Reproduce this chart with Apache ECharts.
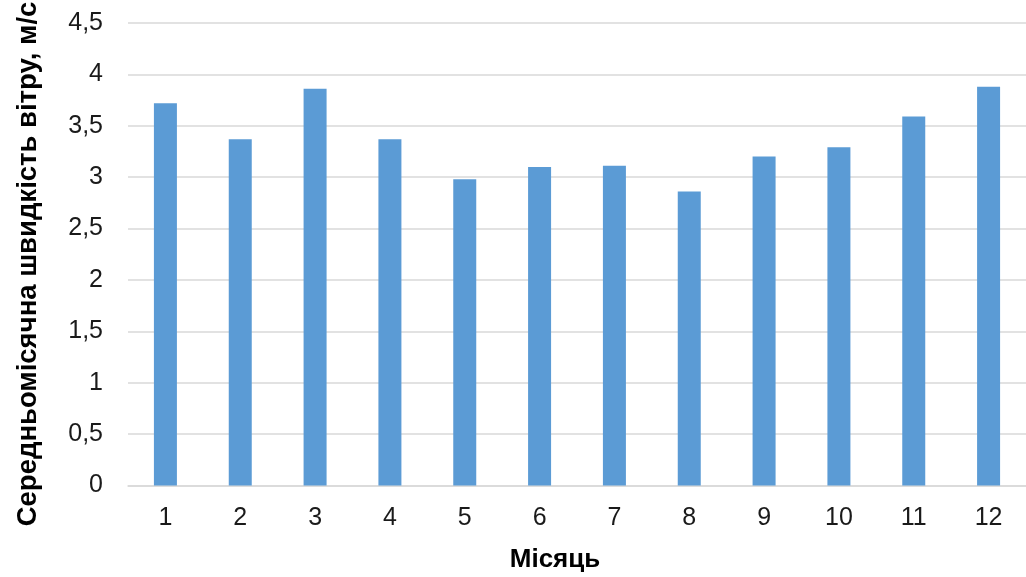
<!DOCTYPE html>
<html>
<head>
<meta charset="utf-8">
<style>
  html, body { margin: 0; padding: 0; background: #ffffff; }
  #chart { width: 1026px; height: 577px; }
</style>
<script src="https://cdn.jsdelivr.net/npm/echarts@6/dist/echarts.min.js"></script>
</head>
<body>
<div id="chart"></div>
<script>
// Monthly mean wind speed, m/s
const months = ['1', '2', '3', '4', '5', '6', '7', '8', '9', '10', '11', '12'];
const windSpeed = [3.72, 3.37, 3.86, 3.37, 2.98, 3.10, 3.11, 2.86, 3.20, 3.29, 3.59, 3.88];
const yTitle = 'Середньомісячна швидкість вітру, м/с';
const xTitle = 'Місяць';

const chart = echarts.init(document.getElementById('chart'));
const font = '"Liberation Sans", Arial, sans-serif';

chart.setOption({
  animation: false,
  backgroundColor: '#ffffff',
  grid: { left: 128, right: -2, top: 23, bottom: 91.5, containLabel: false },
  xAxis: {
    type: 'category',
    data: months,
    axisLine: { show: true, lineStyle: { color: '#d9d9d9', width: 1.5 } },
    axisTick: { show: false },
    axisLabel: { color: '#1a1a1a', fontSize: 25, fontFamily: font, margin: 20 }
  },
  yAxis: {
    type: 'value',
    min: 0,
    max: 4.5,
    interval: 0.5,
    axisLine: { show: false },
    axisTick: { show: false },
    splitLine: { lineStyle: { color: '#d9d9d9', width: 1.5 } },
    axisLabel: {
      color: '#1a1a1a', fontSize: 25, fontFamily: font, margin: 25,
      formatter: v => String(v).replace('.', ',')
    }
  },
  graphic: [
    {
      type: 'text',
      x: 555, y: 560,
      style: {
        text: xTitle, fill: '#000000', font: 'bold 26px ' + font,
        textAlign: 'center', textVerticalAlign: 'middle'
      }
    },
    {
      type: 'text',
      x: 28, y: 264,
      rotation: Math.PI / 2,
      style: {
        text: yTitle, fill: '#000000', font: 'bold 27.5px ' + font,
        textAlign: 'center', textVerticalAlign: 'middle'
      }
    }
  ],
  series: [{
    type: 'bar',
    data: windSpeed,
    barWidth: 23,
    itemStyle: { color: '#5b9bd5' }
  }]
});
</script>
</body>
</html>
